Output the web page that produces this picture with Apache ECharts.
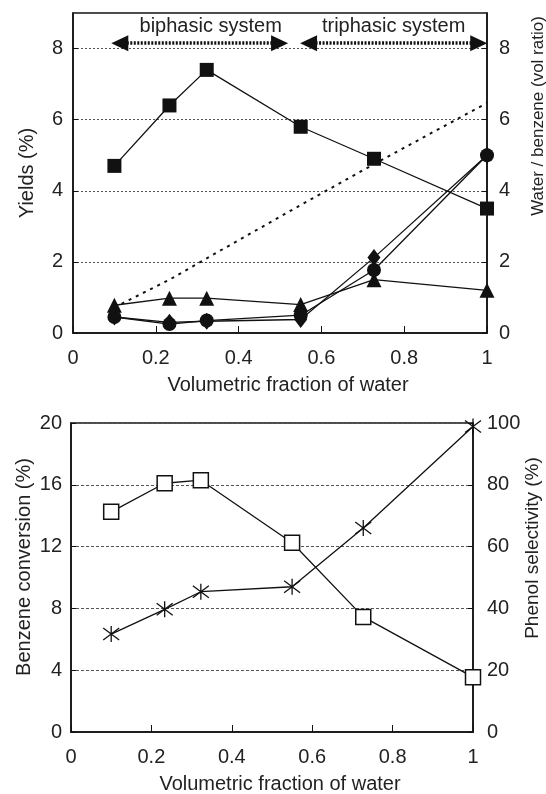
<!DOCTYPE html>
<html>
<head>
<meta charset="utf-8">
<script src="https://cdn.jsdelivr.net/npm/echarts@6/dist/echarts.min.js"></script>
<style>
  html, body { margin: 0; padding: 0; background: #fff; }
  #chart { width: 546px; height: 794px; }
</style>
</head>
<body>
<div id="chart"></div>
<script>
// Volumetric fraction of water (x for both panels)
const waterFraction = [0.1, 0.233, 0.323, 0.55, 0.727, 1.0];

// Upper panel: product yields (%) and water/benzene volume ratio
const yieldSquare   = [4.7, 6.4, 7.4, 5.8, 4.9, 3.5];
const yieldTriangle = [0.78, 0.98, 0.98, 0.8, 1.5, 1.2];
const yieldDiamond  = [0.45, 0.3, 0.33, 0.38, 2.12, 5.0];
const yieldCircle   = [0.45, 0.25, 0.35, 0.5, 1.77, 5.0];
const waterBenzeneRatio = [0.72, 1.5, 2.1, 3.6, 4.75, 6.47];

// Lower panel: benzene conversion (%) and phenol selectivity (%)
const benzeneConversion = [14.25, 16.1, 16.3, 12.25, 7.45, 3.55];
const phenolSelectivity = [31.7, 39.7, 45.4, 47.0, 66.0, 98.9];

// Phase regions shown as double arrows above the upper panel
const phaseNames = ['biphasic system', 'triphasic system'];
const phaseSpans = [[0.113, 0.499], [0.569, 0.98]];
const phaseArrowLevel = 8.15;

// Tick settings
const xTicks = { min: 0, max: 1, interval: 0.2 };
const yieldTicks = { min: 0, max: 9, interval: 2 };
const conversionTicks = { min: 0, max: 20, interval: 4 };
const selectivityTicks = { min: 0, max: 100, interval: 20 };

const FONT = '"Liberation Sans", Arial, Helvetica, sans-serif';
const INK = '#111';
const TEXT = '#222';

const pairs = ys => waterFraction.map((x, i) => [x, ys[i]]);

const chart = echarts.init(document.getElementById('chart'), null, { renderer: 'canvas' });

function xAxisDef(gridIndex) {
  return {
    type: 'value', gridIndex,
    min: xTicks.min, max: xTicks.max, interval: xTicks.interval,
    name: 'Volumetric fraction of water',
    nameLocation: 'middle', nameGap: 42,
    nameTextStyle: { fontSize: 20, color: TEXT, fontFamily: FONT, padding: [0, 0, 0, 16] },
    axisLine: { show: true, lineStyle: { color: INK, width: 1.5 } },
    axisTick: { show: true, inside: true, length: 7, lineStyle: { color: INK, width: 1 } },
    axisLabel: { fontSize: 20, color: TEXT, fontFamily: FONT, margin: 15 },
    splitLine: { show: false }
  };
}

function yAxisDef(gridIndex, ticks, position, grid, labelMargin) {
  return {
    type: 'value', gridIndex, position,
    min: ticks.min, max: ticks.max, interval: ticks.interval,
    axisLine: { show: true, onZero: false, lineStyle: { color: INK, width: 1.5 } },
    axisTick: { show: true, inside: true, length: 5, lineStyle: { color: INK, width: 1 } },
    axisLabel: { fontSize: 20, color: TEXT, fontFamily: FONT, margin: labelMargin, showMaxLabel: ticks.max % ticks.interval === 0 },
    splitLine: grid
  };
}

const dottedGrid = { show: true, lineStyle: { color: '#555', width: 1, type: [2, 2] } };
const dashedGrid = { show: true, lineStyle: { color: '#555', width: 1, type: [3, 2] } };

const lineStyle = { color: INK, width: 1.3 };

const asterisk = 'path://M-7,-6L7,6M-7,6L7,-6M0,-8L0,8';

const option = {
  animation: false,
  backgroundColor: '#fff',
  textStyle: { fontFamily: FONT },
  grid: [
    { left: 73, right: 59, top: 13, height: 320, show: true, borderColor: INK, borderWidth: 1.5, outerBoundsMode: 'none' },
    { left: 71, right: 73, top: 423, height: 309, show: true, borderColor: INK, borderWidth: 1.5, outerBoundsMode: 'none' }
  ],
  xAxis: [xAxisDef(0), xAxisDef(1)],
  yAxis: [
    yAxisDef(0, yieldTicks, 'left', dottedGrid, 10),
    yAxisDef(0, yieldTicks, 'right', { show: false }, 12),
    yAxisDef(1, conversionTicks, 'left', dashedGrid, 9),
    yAxisDef(1, selectivityTicks, 'right', { show: false }, 14)
  ],
  graphic: [
    { type: 'text', x: 27, y: 173, rotation: Math.PI / 2,
      style: { text: 'Yields (%)', fontSize: 20, fontFamily: FONT, fill: TEXT,
               align: 'center', verticalAlign: 'middle', textAlign: 'center', textVerticalAlign: 'middle' } },
    { type: 'text', x: 538, y: 116, rotation: Math.PI / 2,
      style: { text: 'Water / benzene (vol ratio)', fontSize: 17, fontFamily: FONT, fill: TEXT,
               align: 'center', verticalAlign: 'middle', textAlign: 'center', textVerticalAlign: 'middle' } },
    { type: 'text', x: 24, y: 567, rotation: Math.PI / 2,
      style: { text: 'Benzene conversion (%)', fontSize: 20, fontFamily: FONT, fill: TEXT,
               align: 'center', verticalAlign: 'middle', textAlign: 'center', textVerticalAlign: 'middle' } },
    { type: 'text', x: 533, y: 548, rotation: Math.PI / 2,
      style: { text: 'Phenol selectivity (%)', fontSize: 19, fontFamily: FONT, fill: TEXT,
               align: 'center', verticalAlign: 'middle', textAlign: 'center', textVerticalAlign: 'middle' } }
  ],
  series: [
    // water / benzene ratio (right axis, upper panel)
    {
      type: 'line', xAxisIndex: 0, yAxisIndex: 1, data: pairs(waterBenzeneRatio),
      showSymbol: false, z: 2,
      lineStyle: { color: INK, width: 2, type: [3, 5] }
    },
    {
      type: 'line', xAxisIndex: 0, yAxisIndex: 0, data: pairs(yieldTriangle),
      symbol: 'triangle', symbolSize: 15, z: 3,
      lineStyle, itemStyle: { color: INK }
    },
    {
      type: 'line', xAxisIndex: 0, yAxisIndex: 0, data: pairs(yieldDiamond),
      symbol: 'diamond', symbolSize: [13, 17], z: 3,
      lineStyle, itemStyle: { color: INK }
    },
    {
      type: 'line', xAxisIndex: 0, yAxisIndex: 0, data: pairs(yieldCircle),
      symbol: 'circle', symbolSize: 14, z: 4,
      lineStyle, itemStyle: { color: INK }
    },
    {
      type: 'line', xAxisIndex: 0, yAxisIndex: 0, data: pairs(yieldSquare),
      symbol: 'rect', symbolSize: 14, z: 5,
      lineStyle, itemStyle: { color: INK },
      markLine: {
        silent: true,
        symbol: ['triangle', 'triangle'],
        symbolSize: [16, 17],
        lineStyle: { color: INK, width: 3.5, type: [2, 1.5] },
        label: {
          show: true, position: 'insideMiddleTop', distance: 7,
          fontSize: 20, color: TEXT, fontFamily: FONT,
          formatter: p => p.name
        },
        data: phaseNames.map((name, i) => [
          { name, coord: [phaseSpans[i][0], phaseArrowLevel],
            label: { offset: i === 0 ? [11, 0] : [0, 0] } },
          { coord: [phaseSpans[i][1], phaseArrowLevel] }
        ])
      }
    },
    // lower panel
    {
      type: 'line', xAxisIndex: 1, yAxisIndex: 3, data: pairs(phenolSelectivity),
      symbol: asterisk, symbolSize: [16, 16], z: 3,
      lineStyle,
      itemStyle: { color: 'rgba(0,0,0,0)', borderColor: INK, borderWidth: 1.3 }
    },
    {
      type: 'line', xAxisIndex: 1, yAxisIndex: 2, data: pairs(benzeneConversion),
      symbol: 'rect', symbolSize: 15, z: 4,
      lineStyle,
      itemStyle: { color: '#fff', borderColor: INK, borderWidth: 1.5 }
    }
  ]
};

chart.setOption(option);
</script>
</body>
</html>
